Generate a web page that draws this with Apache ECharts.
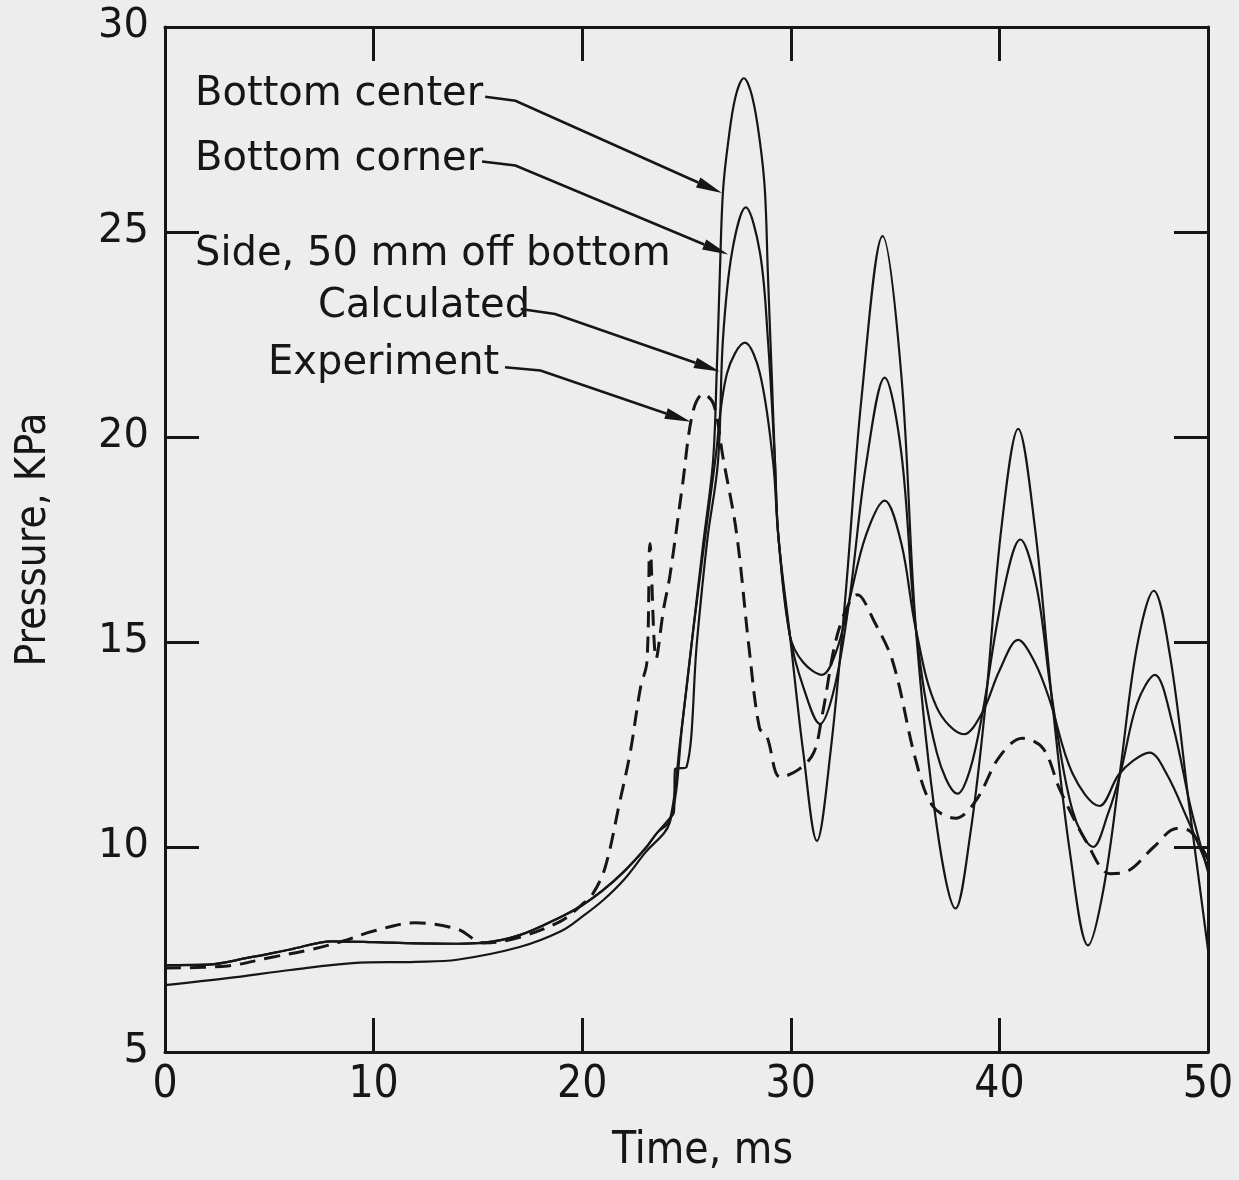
<!DOCTYPE html>
<html>
<head>
<meta charset="utf-8">
<script src="https://cdn.jsdelivr.net/npm/echarts@6/dist/echarts.min.js"></script>
<style>
html,body{margin:0;padding:0;background:#ededed;}
#chart{width:1239px;height:1180px;}
</style>
</head>
<body>
<div id="chart"></div>
<script>
// ---- axis ticks ----
const xTicks = [0, 10, 20, 30, 40, 50];
const yTicks = [5, 10, 15, 20, 25, 30];

// ---- Bottom center (calculated) ----
const centerT = [0,2,4,6,8,10,12,14,15.2,17,19,20,21,22,23,23.6,24.2,24.7,25.3,25.8,26.27,26.45,26.6,26.75,27.0,27.35,27.75,28.15,28.52,28.76,28.9,29.08,29.24,29.4,29.96,30.6,31.25,31.9,32.6,33.4,34.4,35.3,36.0,37.0,37.9,38.6,39.3,40.1,40.9,41.7,42.5,43.4,44.25,45.0,45.8,46.6,47.4,48.2,49.1,50];
const centerP = [7.12,7.13,7.3,7.5,7.7,7.68,7.65,7.64,7.66,7.85,8.3,8.58,8.95,9.4,9.95,10.35,10.65,12.6,15.2,17.4,19.4,21.6,24.0,26.0,27.2,28.3,28.75,28.3,27.2,26.0,24.0,21.6,19.4,17.6,15.15,12.3,10.15,12.3,16.0,21.0,24.9,21.5,15.3,10.5,8.5,10.3,13.3,17.8,20.2,17.8,13.7,9.8,7.6,9.0,11.9,14.9,16.25,14.6,11.0,7.5];

// ---- Bottom corner (calculated) ----
const cornerT = [0,2,4,6,8,10,12,14,15.2,17,19,20,21,22,23,23.6,24.2,24.4,24.45,25.0,25.5,26.0,26.51,26.75,27.18,27.84,28.52,28.9,29.24,29.4,29.96,30.6,31.4,32.1,32.8,33.6,34.5,35.3,36.0,37.0,38.0,38.6,39.2,40.1,41.0,41.8,42.5,43.5,44.5,45.2,45.8,46.6,47.45,48.3,49.2,50];
const cornerP = [7.12,7.13,7.3,7.5,7.7,7.68,7.65,7.64,7.66,7.85,8.3,8.58,8.95,9.4,9.95,10.35,10.7,10.85,11.9,11.95,15.0,17.5,19.4,22.4,24.5,25.6,24.5,22.4,19.4,17.6,15.15,13.9,13.0,13.9,16.0,19.3,21.45,19.6,15.3,12.3,11.3,11.9,13.3,16.0,17.5,16.3,13.7,10.9,10.0,10.8,11.8,13.5,14.2,13.0,10.9,9.4];

// ---- Side, 50 mm off bottom (calculated) ----
const sideT = [0,3,6,9,12,14,17,19,20,21,22,23,24.2,24.8,25.3,25.8,26.37,26.94,27.8,28.52,29.15,29.4,29.96,30.6,31.5,32.2,32.8,33.6,34.5,35.3,36.0,37.0,38.3,39.2,40.0,40.9,41.7,42.4,43.5,44.8,45.7,46.4,47.2,48.0,49.0,50];
const sideP = [6.63,6.8,7.0,7.17,7.2,7.25,7.56,7.95,8.3,8.7,9.2,9.85,10.6,13.0,15.2,17.2,19.4,21.55,22.3,21.55,19.4,17.6,15.15,14.5,14.2,14.8,16.0,17.6,18.45,17.4,15.3,13.4,12.75,13.3,14.3,15.05,14.5,13.6,11.8,11.0,11.75,12.1,12.3,11.8,10.7,9.5];

// ---- Experiment (dashed) ----
const expT = [0,3,5,7,8.5,10,12,14,15.3,17,19,20,20.5,21.1,21.8,22.3,22.8,23.1,23.25,23.55,23.9,24.2,24.8,25.3,25.8,26.3,26.75,27.4,28.0,28.5,28.85,29.5,30.4,31.1,31.5,32.3,33.2,34.0,34.9,36.0,36.8,37.9,38.9,40.0,41.1,42.1,42.9,44.2,45.3,46.1,47.4,48.5,49.1,50];
const expP = [7.05,7.1,7.3,7.5,7.7,7.95,8.15,8.0,7.66,7.8,8.2,8.6,8.85,9.5,11.1,12.3,13.9,14.5,17.4,14.6,15.8,16.6,18.8,20.6,21.05,20.8,19.5,17.65,14.85,12.9,12.7,11.7,11.9,12.3,13.2,15.3,16.15,15.5,14.5,12.1,11.0,10.7,11.15,12.2,12.65,12.4,11.4,10.1,9.35,9.4,10.0,10.45,10.4,9.7];

// ---- annotation labels (data coordinates of left/middle anchor) ----
const labelText = ['Bottom center', 'Bottom corner', 'Side, 50 mm off bottom', 'Calculated', 'Experiment'];
const labelT = [1.44, 1.44, 1.44, 7.33, 4.94];
const labelP = [28.34, 26.76, 24.44, 23.17, 21.8];

// ---- arrow polylines (data coordinates) ----
const arrowPaths = [
  [[15.35, 28.3], [16.8, 28.2], [26.7, 25.95]],
  [[15.2, 26.72], [16.8, 26.62], [27.0, 24.45]],
  [[17.05, 23.12], [18.7, 23.0], [26.6, 21.6]],
  [[16.3, 21.7], [18.0, 21.62], [25.2, 20.37]]
];

const pair = (T, P) => T.map((t, i) => [t, P[i]]);
const ink = '#161616';

const lineBase = {
  type: 'line', showSymbol: false, symbol: 'none', smooth: 0.35,
  xAxisIndex: 0, yAxisIndex: 0, z: 3
};

const chart = echarts.init(document.getElementById('chart'));
const axisLine = { show: true, onZero: false, lineStyle: { color: ink, width: 3 } };
const tickStyle = { show: true, inside: true, length: 34, lineStyle: { color: ink, width: 3 } };
const narrow = '"Liberation Sans Narrow", "DejaVu Sans Condensed", sans-serif';

const option = {
  backgroundColor: '#ededed',
  animation: false,
  grid: { left: 165, right: 31, top: 27, bottom: 128, show: false },
  xAxis: [
    { type: 'value', min: xTicks[0], max: xTicks[xTicks.length - 1], interval: 10, position: 'bottom',
      axisLine, axisTick: tickStyle, splitLine: { show: false },
      axisLabel: { margin: 12, color: ink, fontSize: 44, fontFamily: narrow },
      name: 'Time, ms', nameLocation: 'middle', nameGap: 78,
      nameTextStyle: { color: ink, fontSize: 44, fontFamily: narrow, padding: [0, 0, 0, 32] } },
    { type: 'value', min: xTicks[0], max: xTicks[xTicks.length - 1], interval: 10, position: 'top',
      axisLine, axisTick: tickStyle, axisLabel: { show: false }, splitLine: { show: false } }
  ],
  yAxis: [
    { type: 'value', min: yTicks[0], max: yTicks[yTicks.length - 1], interval: 5, position: 'left',
      axisLine, axisTick: tickStyle, splitLine: { show: false },
      axisLabel: { margin: 16, color: ink, fontSize: 40, fontFamily: '"DejaVu Sans", sans-serif' },
      name: 'Pressure, KPa', nameLocation: 'middle', nameGap: 110, nameRotate: 90,
      nameTextStyle: { color: ink, fontSize: 42, fontFamily: narrow } },
    { type: 'value', min: yTicks[0], max: yTicks[yTicks.length - 1], interval: 5, position: 'right',
      axisLine, axisTick: tickStyle, axisLabel: { show: false }, splitLine: { show: false } }
  ],
  series: [
    Object.assign({}, lineBase, { name: 'Bottom center', data: pair(centerT, centerP), lineStyle: { color: ink, width: 2.2 } }),
    Object.assign({}, lineBase, { name: 'Bottom corner', data: pair(cornerT, cornerP), lineStyle: { color: ink, width: 2.2 } }),
    Object.assign({}, lineBase, { name: 'Side, 50 mm off bottom', data: pair(sideT, sideP), lineStyle: { color: ink, width: 2.2 } }),
    Object.assign({}, lineBase, { name: 'Experiment', data: pair(expT, expP), lineStyle: { color: ink, width: 3, type: [16, 9] } })
  ]
};
chart.setOption(option);

const graphics = labelText.map((txt, i) => {
  const px = chart.convertToPixel({ gridIndex: 0 }, [labelT[i], labelP[i]]);
  return { type: 'text', x: px[0], y: px[1], z: 10,
    style: { text: txt, fill: ink, font: '40px "DejaVu Sans", sans-serif', textVerticalAlign: 'middle', textAlign: 'left' } };
});

arrowPaths.forEach(path => {
  const pts = path.map(c => chart.convertToPixel({ gridIndex: 0 }, c));
  const n = pts.length;
  const tip = pts[n - 1], prev = pts[n - 2];
  const dx = tip[0] - prev[0], dy = tip[1] - prev[1];
  const L = Math.hypot(dx, dy), ux = dx / L, uy = dy / L;
  const hl = 26, hw = 5.5;
  const base = [tip[0] - ux * hl, tip[1] - uy * hl];
  graphics.push({ type: 'polyline', z: 9, shape: { points: pts.slice(0, n - 1).concat([base]) },
    style: { stroke: ink, lineWidth: 2.6, fill: null } });
  graphics.push({ type: 'polygon', z: 9, shape: { points: [tip, [base[0] - uy * hw, base[1] + ux * hw], [base[0] + uy * hw, base[1] - ux * hw]] },
    style: { fill: ink } });
});
chart.setOption({ graphic: graphics });
</script>
</body>
</html>
